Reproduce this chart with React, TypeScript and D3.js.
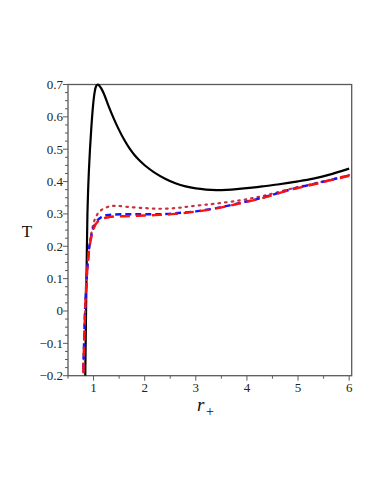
import React from "react";
import * as d3 from "d3";

const xTicks = [1, 2, 3, 4, 5, 6];
const yTicks = [-0.2, -0.1, 0, 0.1, 0.2, 0.3, 0.4, 0.5, 0.6, 0.7];

const blackX = [0.838, 0.85, 0.865, 0.88, 0.9, 0.93, 0.96, 0.99, 1.02, 1.05, 1.08, 1.11, 1.15, 1.2, 1.3, 1.4, 1.5, 1.6, 1.7, 1.8, 1.9, 2.0, 2.2, 2.4, 2.6, 2.8, 3.0, 3.2, 3.4, 3.6, 3.8, 4.0, 4.3, 4.6, 5.0, 5.3, 5.6, 6.0];
const blackT = [-0.2, -0.04, 0.14, 0.3, 0.4, 0.5, 0.575, 0.635, 0.675, 0.695, 0.7, 0.697, 0.688, 0.672, 0.631, 0.593, 0.559, 0.529, 0.503, 0.482, 0.465, 0.4505, 0.427, 0.409, 0.395, 0.385, 0.3787, 0.3752, 0.3737, 0.3745, 0.3765, 0.3795, 0.385, 0.391, 0.4005, 0.409, 0.4205, 0.44];

const blueX = [0.8, 0.81, 0.825, 0.84, 0.855, 0.87, 0.89, 0.91, 0.94, 0.97, 1.0, 1.05, 1.1, 1.15, 1.2, 1.3, 1.4, 1.6, 1.8, 2.0, 2.3, 2.6, 3.0, 3.4, 3.87, 4.3, 4.84, 5.4, 6.0];
const blueT = [-0.18, -0.12, -0.04, 0.03, 0.075, 0.115, 0.155, 0.19, 0.22, 0.243, 0.258, 0.274, 0.284, 0.29, 0.294, 0.297, 0.298, 0.299, 0.299, 0.299, 0.299, 0.302, 0.308, 0.318, 0.334, 0.35, 0.375, 0.396, 0.419];

const redX = [0.8, 0.81, 0.825, 0.84, 0.855, 0.87, 0.89, 0.91, 0.94, 0.97, 1.0, 1.05, 1.1, 1.15, 1.2, 1.3, 1.4, 1.6, 1.8, 2.0, 2.3, 2.6, 3.0, 3.4, 3.87, 4.3, 4.84, 5.4, 6.0];
const redT = [-0.19, -0.13, -0.05, 0.025, 0.07, 0.11, 0.15, 0.185, 0.215, 0.238, 0.254, 0.27, 0.279, 0.284, 0.287, 0.29, 0.292, 0.293, 0.294, 0.295, 0.297, 0.3, 0.307, 0.317, 0.333, 0.349, 0.374, 0.395, 0.418];

const dotX = [0.8, 0.82, 0.84, 0.86, 0.88, 0.91, 0.94, 0.97, 1.0, 1.05, 1.1, 1.16, 1.25, 1.33, 1.45, 1.65, 2.0, 2.3, 2.6, 2.82, 3.1, 3.34, 3.87, 4.3, 4.84, 5.4, 6.0];
const dotT = [-0.19, -0.08, 0.02, 0.09, 0.14, 0.19, 0.225, 0.25, 0.272, 0.292, 0.305, 0.313, 0.32, 0.324, 0.325, 0.322, 0.318, 0.316, 0.318, 0.322, 0.327, 0.331, 0.342, 0.355, 0.377, 0.397, 0.42];

const W = 382, H = 494;
const L = 68, R = 351.7, T0 = 84.5, B = 375.7;

export default function App() {
  const x = d3.scaleLinear().domain([0.5, 6.05]).range([L, R]);
  const y = d3.scaleLinear().domain([-0.2, 0.7]).range([B, T0]);
  const line = d3.line<[number, number]>().x(d => x(d[0])).y(d => y(d[1])).curve(d3.curveCatmullRom.alpha(0.5));
  const mk = (xs: number[], ts: number[]) => line(xs.map((v, i) => [v, ts[i]] as [number, number])) || "";

  const xMinor = d3.range(0.5, 6.01, 0.5).filter(v => Math.abs(v - Math.round(v)) > 0.01);
  const yMinor = d3.range(-0.2, 0.7001, 0.025).filter(v => Math.abs(v * 10 - Math.round(v * 10)) > 0.01);
  const fmt = (v: number) => (Math.abs(v) < 1e-9 ? "0" : (v < 0 ? "\u2212" : "") + String(Math.abs(Math.round(v * 10) / 10)));
  const axisColor = "#5a5a5a";
  const font = "'Liberation Serif', 'DejaVu Serif', serif";

  return (
    <svg width={W} height={H} style={{ position: "absolute", left: 0, top: 0, background: "#fff" }}>
      <defs>
        <clipPath id="pc">
          <rect x={L} y={T0 - 2} width={R - L} height={B - T0 + 2} />
        </clipPath>
      </defs>
      <rect x={L} y={T0} width={R - L} height={B - T0} fill="none" stroke={axisColor} strokeWidth={1.3} />
      {xTicks.map(v => (
        <g key={"xt" + v}>
          <line x1={x(v)} x2={x(v)} y1={B} y2={B + 5} stroke={axisColor} strokeWidth={1} />
          <text x={x(v)} y={392} fontFamily={font} fontSize={13} textAnchor="middle" fill="#222">{v}</text>
        </g>
      ))}
      {xMinor.map(v => (
        <line key={"xm" + v} x1={x(v)} x2={x(v)} y1={B} y2={B + 3} stroke={axisColor} strokeWidth={1} />
      ))}
      {yTicks.map(v => (
        <g key={"yt" + v}>
          <line x1={L - 5} x2={L} y1={y(v)} y2={y(v)} stroke={axisColor} strokeWidth={1} />
          <text x={63} y={y(v) + 4.5} fontFamily={font} fontSize={13} textAnchor="end" fill="#222">{fmt(v)}</text>
        </g>
      ))}
      {yMinor.map(v => (
        <line key={"ym" + v} x1={L - 3} x2={L} y1={y(v)} y2={y(v)} stroke={axisColor} strokeWidth={1} />
      ))}
      <g clipPath="url(#pc)" fill="none">
        <path d={mk(blackX, blackT)} stroke="#000" strokeWidth={2.2} />
        <path d={mk(dotX, dotT)} stroke="#c8323a" strokeWidth={2.2} strokeDasharray="1.6,5" strokeLinecap="round" />
        <path d={mk(blueX, blueT)} stroke="#1414ff" strokeWidth={2.4} strokeDasharray="6,4" />
        <path d={mk(redX, redT)} stroke="#ff1010" strokeWidth={2.4} strokeDasharray="10,6" />
      </g>
      <text x={27} y={237} fontFamily={font} fontSize={17} textAnchor="middle" fill="#111">T</text>
      <text x={197} y={411} fontFamily={font} fontSize={19} fontStyle="italic" fill="#111">r</text>
      <text x={206} y={416} fontFamily={font} fontSize={14} fill="#111">+</text>
    </svg>
  );
}
